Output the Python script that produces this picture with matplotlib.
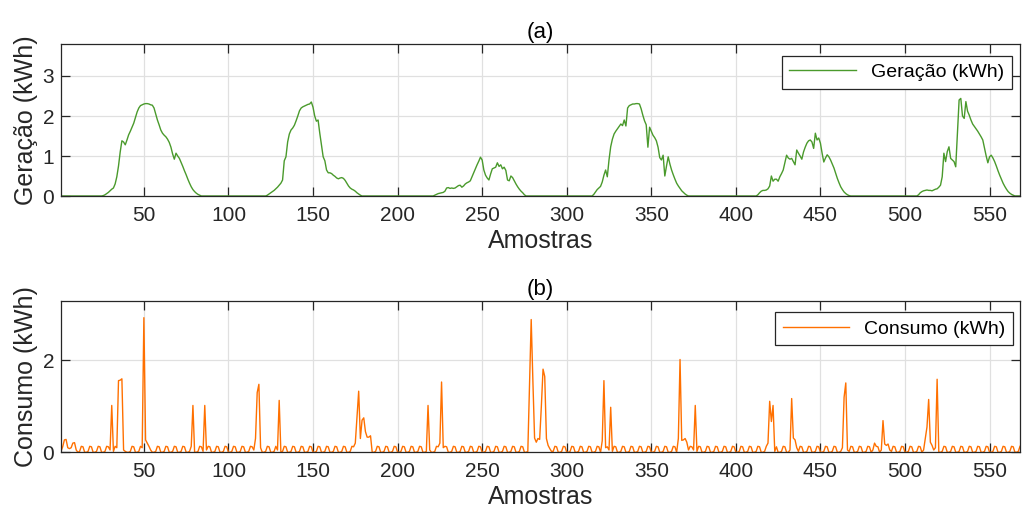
import numpy as np
import matplotlib
matplotlib.use("Agg")
import matplotlib.pyplot as plt

# ---------------- data ----------------
n_samples = 568
x_ticks = [50, 100, 150, 200, 250, 300, 350, 400, 450, 500, 550]

# generation: daytime humps (value per sample), night = 0
gen_starts = [25, 122, 221, 315, 412, 507]
gen_day1 = [0, 0.01, 0.03, 0.06, 0.09, 0.13, 0.17, 0.2, 0.3, 0.48,
            0.75, 1.1, 1.38, 1.35, 1.28, 1.4, 1.53, 1.62, 1.72, 1.82,
            1.96, 2.1, 2.2, 2.26, 2.28, 2.3, 2.31, 2.31, 2.3, 2.28,
            2.27, 2.2, 2.05, 1.9, 1.78, 1.65, 1.57, 1.52, 1.48, 1.42,
            1.34, 1.22, 1.05, 0.92, 1.07, 1.0, 0.94, 0.84, 0.74, 0.63,
            0.53, 0.42, 0.32, 0.23, 0.16, 0.11, 0.07, 0.04, 0.02, 0]
gen_day2 = [0, 0.02, 0.05, 0.08, 0.11, 0.14, 0.18, 0.22, 0.27, 0.32,
            0.4, 0.88, 0.98, 1.35, 1.55, 1.65, 1.7, 1.77, 1.88, 2.0,
            2.13, 2.2, 2.23, 2.25, 2.27, 2.29, 2.3, 2.35, 2.22, 2.0,
            1.87, 1.9, 1.57, 1.27, 0.98, 0.88, 0.65, 0.58, 0.58, 0.56,
            0.52, 0.49, 0.45, 0.43, 0.45, 0.46, 0.44, 0.39, 0.32, 0.25,
            0.2, 0.17, 0.15, 0.12, 0.08, 0.05, 0.02, 0]
gen_day3 = [0, 0.02, 0.04, 0.06, 0.07, 0.08, 0.09, 0.12, 0.2, 0.21,
            0.19, 0.2, 0.19, 0.2, 0.23, 0.26, 0.27, 0.22, 0.25, 0.3,
            0.33, 0.35, 0.38, 0.48, 0.58, 0.68, 0.78, 0.87, 0.97, 0.9,
            0.65, 0.52, 0.45, 0.4, 0.55, 0.68, 0.7, 0.72, 0.83, 0.74,
            0.78, 0.68, 0.72, 0.64, 0.4, 0.38, 0.5, 0.46, 0.38, 0.3,
            0.23, 0.17, 0.12, 0.08, 0.03, 0]
gen_day4 = [0, 0.04, 0.1, 0.16, 0.2, 0.24, 0.35, 0.52, 0.65, 0.48,
            0.9, 1.23, 1.42, 1.55, 1.62, 1.68, 1.74, 1.8, 1.76, 1.9,
            1.75, 2.2, 2.26, 2.28, 2.3, 2.3, 2.31, 2.31, 2.3, 2.18,
            2.02, 1.88, 1.78, 1.22, 1.72, 1.62, 1.52, 1.46, 1.38, 1.22,
            0.96, 0.9, 1.02, 0.5, 0.75, 0.98, 0.8, 0.65, 0.53, 0.42,
            0.32, 0.25, 0.19, 0.13, 0.09, 0.05, 0.02, 0]
gen_day5 = [0, 0.03, 0.08, 0.12, 0.14, 0.14, 0.15, 0.18, 0.25, 0.5,
            0.37, 0.42, 0.42, 0.37, 0.48, 0.56, 0.65, 0.84, 1.02, 0.95,
            0.92, 0.94, 0.86, 0.78, 1.15, 1.07, 1.0, 0.92, 1.1, 1.22,
            1.32, 1.38, 1.4, 1.35, 1.19, 1.57, 1.4, 1.45, 1.32, 1.07,
            0.85, 0.95, 1.03, 0.98, 0.9, 0.8, 0.7, 0.57, 0.44, 0.33,
            0.23, 0.16, 0.1, 0.06, 0.03, 0.01, 0]
gen_day6 = [0, 0.03, 0.08, 0.11, 0.13, 0.14, 0.15, 0.14, 0.14, 0.13,
            0.15, 0.17, 0.18, 0.22, 0.27, 0.48, 1.07, 0.86, 1.11, 1.23,
            0.94, 0.9, 0.86, 0.73, 1.57, 2.4, 2.44, 2.0, 1.94, 2.36,
            2.12, 2.02, 1.9, 1.8, 1.74, 1.68, 1.62, 1.55, 1.48, 1.4,
            1.2, 1.0, 0.83, 0.98, 1.02, 0.95, 0.86, 0.75, 0.63, 0.52,
            0.42, 0.32, 0.24, 0.17, 0.11, 0.07, 0.04, 0.02, 0]

# consumption, value per sample
cons_001_100 = [
    .02, .12, .27, .28, .10, .08, .10, .20, .21, .05,
    0, .02, .13, .12, 0, 0, .02, .13, .12, 0,
    0, .02, .13, .12, 0, 0, .02, .13, .12, .05,
    1.02, .02, .13, .10, 1.56, 1.57, 1.60, .05, .02, 0,
    0, .02, .13, .12, 0, 0, .02, .13, .10, 2.93,
    .27, .20, .13, .05, 0, 0, .02, .13, .12, 0,
    0, .02, .13, .12, 0, 0, .02, .13, .12, 0,
    0, .02, .13, .12, 0, 0, .02, .13, 1.02, 0,
    0, .02, .13, .12, .02, 1.02, .05, .13, .12, 0,
    0, .02, .13, .12, 0, 0, .02, .13, .12, 0]
cons_101_200 = [
    0, .02, .13, .12, 0, 0, .02, .13, .12, 0,
    0, .02, .13, .12, .05, .30, 1.30, 1.48, .10, 0,
    0, .02, .13, .12, 0, 0, .02, .13, .05, 1.13,
    0, .02, .13, .12, 0, 0, .02, .13, .12, 0,
    0, .02, .13, .12, 0, 0, .02, .13, .12, 0,
    0, .02, .13, .12, 0, 0, .02, .13, .12, 0,
    0, .02, .13, .12, 0, 0, .02, .13, .12, 0,
    0, .02, .13, .12, .20, .75, 1.33, .30, .70, .75,
    .45, .33, .33, .36, 0, 0, .02, .13, .12, 0,
    0, .02, .13, .12, 0, 0, .02, .13, .12, 0]
cons_201_300 = [
    0, .02, .13, .12, 0, 0, .02, .13, .12, 0,
    0, .02, .13, .12, 0, 0, .02, 1.02, .05, 0,
    0, .02, .13, .12, .20, 1.53, .10, .13, .12, 0,
    0, .02, .13, .12, 0, 0, .02, .13, .12, 0,
    0, .02, .13, .12, 0, 0, .02, .13, .12, 0,
    0, .02, .13, .12, 0, 0, .02, .13, .12, 0,
    0, .02, .13, .12, 0, 0, .02, .13, .12, 0,
    0, .02, .13, .12, 0, 0, .02, 1.45, 2.89, 1.55,
    .31, .22, .30, .28, 1.00, 1.81, 1.65, .30, .15, .08,
    .02, .02, .13, .12, 0, 0, .02, .13, .12, 0]
cons_301_400 = [
    0, .02, .13, .12, 0, 0, .02, .13, .12, 0,
    0, .02, .13, .12, 0, 0, .02, .13, .12, 0,
    .25, 1.56, .10, .12, .05, .98, .02, .13, .12, 0,
    0, .02, .13, .12, 0, 0, .02, .13, .12, 0,
    0, .02, .13, .12, 0, 0, .02, .13, .12, 0,
    0, .02, .13, .12, 0, 0, .02, .13, .12, 0,
    0, .02, .13, .12, 0, .30, 2.02, .26, .27, .30,
    .22, .05, .13, .12, .05, 1.02, .02, .13, .12, 0,
    0, .02, .13, .12, 0, 0, .02, .13, .12, 0,
    0, .02, .13, .12, 0, 0, .02, .13, .12, 0]
cons_401_500 = [
    0, .02, .13, .12, 0, 0, .02, .13, .12, 0,
    0, .02, .13, .12, 0, 0, .02, .13, .20, 1.11,
    .67, 1.02, .02, .12, 0, 0, .02, .13, .12, 0,
    0, .05, 1.17, .31, .27, .10, .02, .13, .12, 0,
    0, .02, .13, .12, 0, 0, .02, .13, .12, 0,
    0, .02, .13, .12, 0, 0, .02, .13, .12, 0,
    0, .02, .10, 1.20, 1.51, .05, .02, .13, .12, 0,
    0, .02, .13, .12, 0, 0, .02, .13, .12, 0,
    .05, .20, .13, .12, 0, .05, .69, .18, .15, .18,
    .05, .02, .13, .12, 0, 0, .02, .13, .12, 0]
cons_501_568 = [
    0, .02, .13, .12, 0, 0, .02, .13, .12, 0,
    .05, .30, .55, 1.15, .22, .15, .05, .10, 1.59, 0,
    0, .02, .13, .12, 0, 0, .02, .13, .12, 0,
    0, .02, .13, .12, 0, 0, .02, .13, .12, 0,
    0, .02, .13, .12, 0, 0, .02, .13, .12, 0,
    0, .02, .13, .12, 0, 0, .02, .13, .12, 0,
    0, .02, .13, .12, 0, 0, .02, .13]

# ---------------- build series ----------------
x = np.arange(1, n_samples + 1)
gen = np.zeros(n_samples)
for start, vals in zip(gen_starts, [gen_day1, gen_day2, gen_day3,
                                    gen_day4, gen_day5, gen_day6]):
    gen[start - 1:start - 1 + len(vals)] = vals
cons = np.array(cons_001_100 + cons_101_200 + cons_201_300 +
                cons_301_400 + cons_401_500 + cons_501_568)

# ---------------- plot ----------------
plt.rcParams['font.family'] = ['Liberation Sans', 'DejaVu Sans']
dark = '#262626'
W, H = 1024, 516
fig = plt.figure(figsize=(W / 100, H / 100), dpi=100)
ax1 = fig.add_axes([61 / W, 1 - 196 / H, (1020 - 61) / W, (196 - 44) / H])
ax2 = fig.add_axes([61 / W, 1 - 452.3 / H, (1020 - 61) / W, (452.3 - 300.7) / H])

ax1.plot(x, gen, color='#4A9A2C', lw=1.0, label='Geração (kWh)')
ax2.plot(x, cons, color='#FF7000', lw=1.0, label='Consumo (kWh)')

specs = [(ax1, '(a)', 'Geração (kWh)', 3.8, [0, 1, 2, 3], (0.9917, 0.923)),
         (ax2, '(b)', 'Consumo (kWh)', 3.3, [0, 2], (0.993, 0.9235))]
for ax, ttl, ylab, ymax, yt, anchor in specs:
    ax.set_xlim(1, n_samples)
    ax.set_ylim(0, ymax)
    ax.set_xticks(x_ticks)
    ax.set_yticks(yt)
    ax.grid(True, color='#e0e0e0', lw=0.9)
    ax.set_axisbelow(True)
    for sp in ax.spines.values():
        sp.set_color(dark)
        sp.set_linewidth(0.9)
    ax.tick_params(direction='in', length=6.5, width=0.9, colors=dark,
                   labelsize=15, top=True, right=True)
    ax.tick_params(axis='x', pad=7)
    ax.tick_params(axis='y', pad=5)
    ax.set_title(ttl, fontsize=16, pad=4, color='black')
    ax.set_xlabel('Amostras', fontsize=18, color=dark, labelpad=3)
    ax.set_ylabel(ylab, fontsize=18, color=dark, labelpad=3)
    leg = ax.legend(loc='upper right', bbox_to_anchor=anchor, borderaxespad=0,
                    fontsize=14, handlelength=3.4, fancybox=False,
                    framealpha=1, edgecolor=dark, borderpad=0.4)
    leg.get_frame().set_linewidth(0.9)

fig.savefig('out.png', dpi=100)
